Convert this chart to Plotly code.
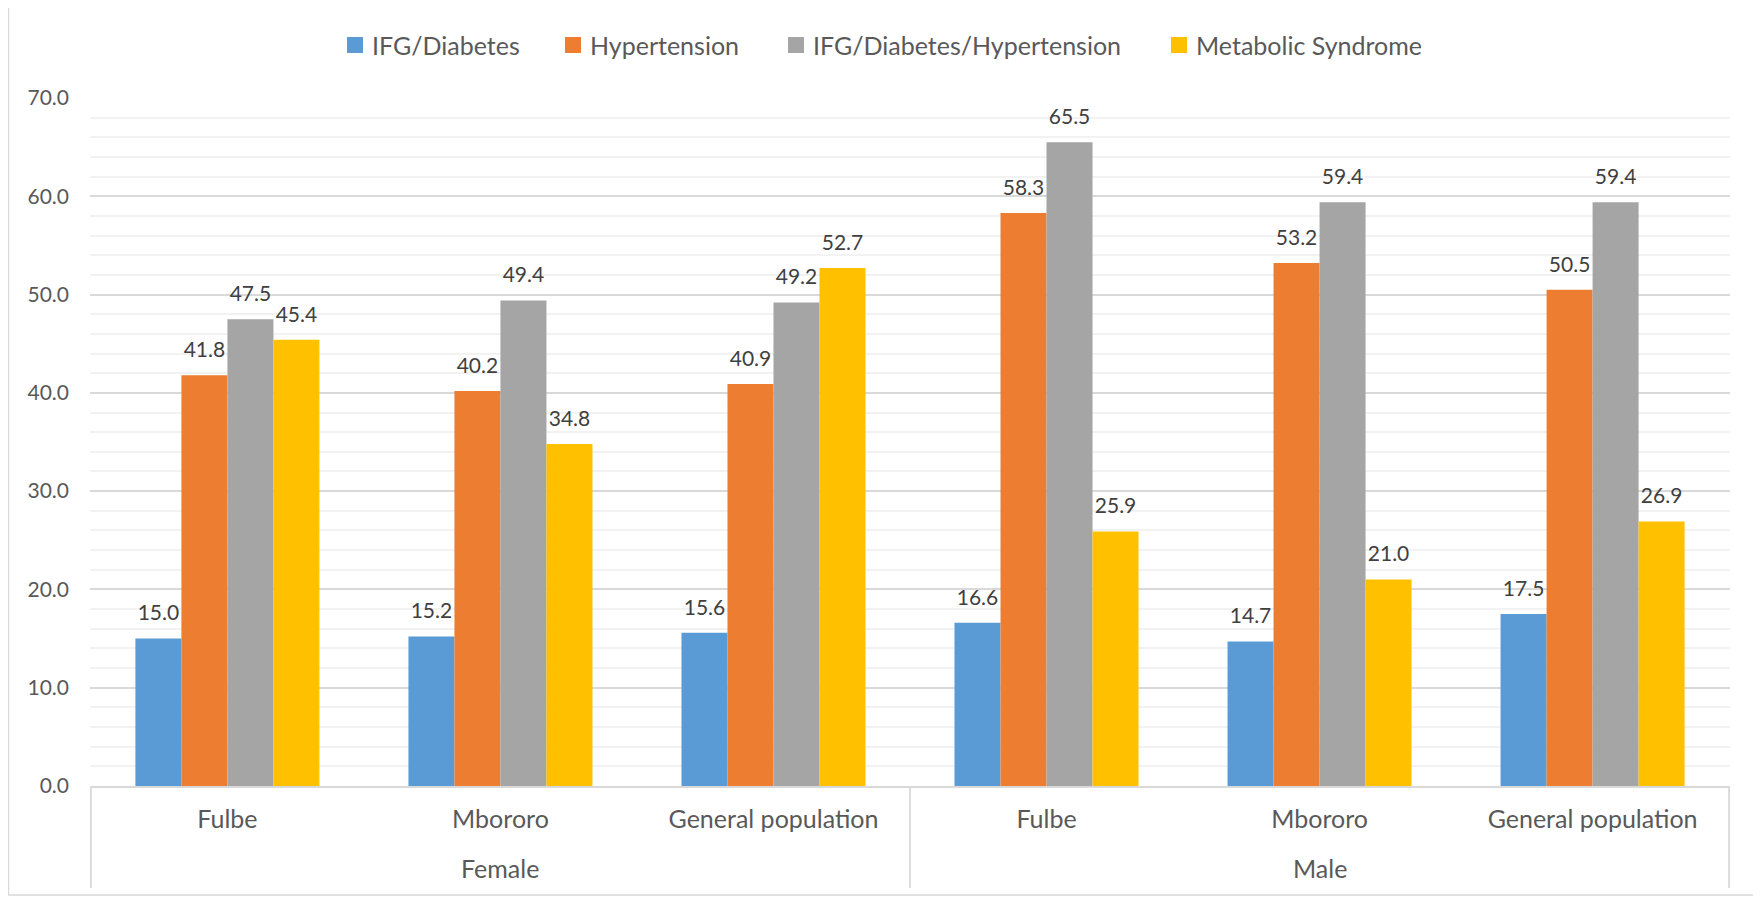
import plotly.graph_objects as go

sexes = ["Female", "Female", "Female", "Male", "Male", "Male"]
groups = ["Fulbe", "Mbororo", "General population", "Fulbe", "Mbororo", "General population"]

series_names = ["IFG/Diabetes", "Hypertension", "IFG/Diabetes/Hypertension", "Metabolic Syndrome"]
ifg_diabetes = [15.0, 15.2, 15.6, 16.6, 14.7, 17.5]
hypertension = [41.8, 40.2, 40.9, 58.3, 53.2, 50.5]
ifg_diab_hyp = [47.5, 49.4, 49.2, 65.5, 59.4, 59.4]
metabolic = [45.4, 34.8, 52.7, 25.9, 21.0, 26.9]
colors = ["#5B9BD5", "#ED7D31", "#A5A5A5", "#FFC000"]

W, H = 1761, 901
OFF = 8  # page body margin of the html page
# plot area in target-image pixels: x 90..1730, y 98..786
ML, MT = 90 - OFF, 98 - OFF
MR, MB = W - (1730 - OFF), H - (786 - OFF)
PW, PH = W - ML - MR, H - MT - MB
FONT = "Lato"
TXT = "#595959"
LINE = "#D9D9D9"
BARGAP = 0.326

def px_x(px):
    return (px - OFF - ML) / PW

def px_y(py):
    return (H - MB - (py - OFF)) / PH

keys = [f"{s}|{g}" for s, g in zip(sexes, groups)]
all_series = [ifg_diabetes, hypertension, ifg_diab_hyp, metabolic]

fig = go.Figure()
for name, vals, col in zip(series_names, all_series, colors):
    fig.add_trace(go.Bar(
        x=keys, y=vals, name=name,
        marker=dict(color=col, line=dict(width=0)),
        showlegend=False, hoverinfo="y+name",
    ))
# data labels (grouped scatter aligned with the bars)
for name, vals in zip(series_names, all_series):
    fig.add_trace(go.Scatter(
        x=keys, y=vals, mode="markers+text", name=name,
        marker=dict(size=19, opacity=0),
        text=[f"{v:.1f}" for v in vals], textposition="top center",
        textfont=dict(size=21, color="#404040", family=FONT),
        showlegend=False, hoverinfo="skip", cliponaxis=False,
    ))

fig.update_layout(
    width=W, height=H,
    paper_bgcolor="white", plot_bgcolor="white",
    barmode="group", bargap=BARGAP, bargroupgap=0,
    scattermode="group", scattergap=BARGAP,
    margin=dict(l=ML, r=MR, t=MT, b=MB, autoexpand=False),
    font=dict(family=FONT, size=20, color=TXT),
    showlegend=False,
)
fig.update_yaxes(
    range=[0, 70], dtick=10, tickformat=".1f",
    showgrid=True, gridcolor=LINE, gridwidth=1.5,
    minor=dict(dtick=2, showgrid=True, gridcolor="#F2F2F2", gridwidth=1.5),
    zeroline=False, showline=False, ticks="",
    tickfont=dict(size=21, color=TXT), ticklabelstandoff=20,
)
fig.update_xaxes(
    type="category", categoryorder="array", categoryarray=keys,
    tickvals=keys, ticktext=groups,
    showline=True, linecolor=LINE, linewidth=1.8,
    showgrid=False, ticks="",
    tickfont=dict(size=25, color=TXT), ticklabelstandoff=10,
)

# second-level (sex) labels and dividers
unique_sexes = list(dict.fromkeys(sexes))
bounds = []
for s in unique_sexes:
    idx = [i for i, v in enumerate(sexes) if v == s]
    mid = idx[len(idx) // 2]
    fig.add_annotation(x=keys[mid], y=px_y(868), xref="x", yref="paper",
                       text=s, showarrow=False, yanchor="middle",
                       font=dict(size=25, color=TXT, family=FONT))
    bounds.append(idx[0] - 0.5)
bounds.append(len(keys) - 0.5)
for b in bounds:
    fig.add_shape(type="line", xref="x", yref="paper", x0=b, x1=b,
                  y0=0, y1=px_y(888), line=dict(color=LINE, width=1.8))

# legend (Excel-like)
leg_x = [347, 565, 788, 1171]
for name, col, lx in zip(series_names, colors, leg_x):
    fig.add_shape(type="rect", xref="paper", yref="paper",
                  x0=px_x(lx), x1=px_x(lx + 16), y0=px_y(37), y1=px_y(53),
                  fillcolor=col, line=dict(width=0))
    fig.add_annotation(x=px_x(lx + 23), y=px_y(45), xref="paper", yref="paper",
                       text=name, showarrow=False, xanchor="left", yanchor="middle",
                       font=dict(size=25, color=TXT, family=FONT))

# chart border
fig.add_shape(type="rect", xref="paper", yref="paper",
              x0=px_x(8.5), x1=px_x(1757), y0=px_y(895), y1=px_y(5),
              line=dict(color=LINE, width=1.5))
fig.write_html("out.html")
